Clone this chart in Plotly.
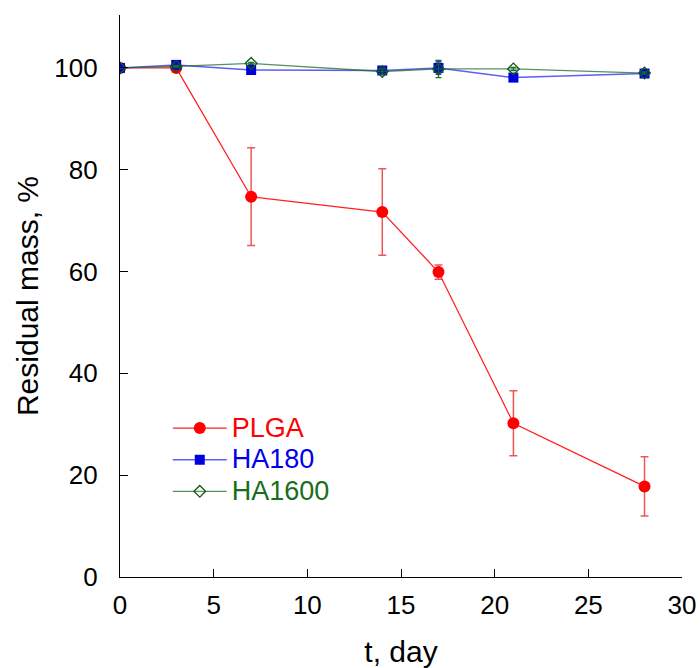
import plotly.graph_objects as go

days = [0, 3, 7, 14, 17, 21, 28]
plga = [100, 100, 74.7, 71.7, 59.9, 30.2, 17.8]
plga_err = [0, 0, 9.6, 8.5, 1.4, 6.4, 5.8]
ha180 = [100, 100.6, 99.6, 99.5, 100.0, 98.1, 98.9]
ha180_err = [0, 0.3, 0.3, 0.4, 1.2, 0.3, 0.3]
ha1600 = [100, 100.3, 100.9, 99.3, 99.8, 99.8, 99.0]
ha1600_err = [0, 0.2, 0.2, 0.5, 1.7, 0.3, 0.2]

FONT = "Liberation Sans, Arial, sans-serif"

def lname(txt, col):
    return f"<span style='color:{col};font-size:27px'>{txt}</span>"

fig = go.Figure()
fig.add_trace(go.Scatter(
    x=days, y=plga, name=lname("PLGA", "#ff0000"),
    mode="lines+markers",
    line=dict(color="#ff2020", width=1.3),
    marker=dict(symbol="circle", size=12, color="#ff0000"),
    error_y=dict(type="data", array=plga_err, visible=True, color="rgba(230,60,60,0.85)", thickness=1.5, width=4),
))
fig.add_trace(go.Scatter(
    x=days, y=ha180, name=lname("HA180", "#0000ee"),
    mode="lines+markers",
    line=dict(color="rgba(40,40,240,0.75)", width=1.5),
    marker=dict(symbol="square", size=10, color="#0000dd"),
    error_y=dict(type="data", array=ha180_err, visible=True, color="#1010c0", thickness=1.3, width=3),
))
fig.add_trace(go.Scatter(
    x=days, y=ha1600, name=lname("HA1600", "#1a6e1a"),
    mode="lines+markers",
    line=dict(color="rgba(30,110,40,0.75)", width=1.3),
    marker=dict(symbol="diamond-open", size=9, color="#0f5a1a", line=dict(width=1.3)),
    error_y=dict(type="data", array=ha1600_err, visible=True, color="#1a6e1a", thickness=1.3, width=3),
))

fig.update_layout(
    width=700, height=668,
    margin=dict(l=120, r=18, t=15, b=91, autoexpand=False),
    paper_bgcolor="white", plot_bgcolor="white",
    font=dict(family=FONT, size=26, color="black"),
    showlegend=True,
    legend=dict(x=0.085, y=0.302, xanchor="left", yanchor="top",
                bgcolor="rgba(0,0,0,0)", font=dict(family=FONT, size=22),
                itemwidth=54, tracegroupgap=0),
)
fig.update_xaxes(
    range=[0, 30], tickvals=[0, 5, 10, 15, 20, 25, 30],
    showline=True, linecolor="black", linewidth=1.2,
    ticks="inside", ticklen=8, tickcolor="black", tickwidth=1,
    showgrid=False, zeroline=False, automargin=False, ticklabelstandoff=5,
    tickfont=dict(size=26), title=dict(text="t, day", font=dict(size=30), standoff=28),
)
fig.update_yaxes(
    range=[0, 110.4], tickvals=[0, 20, 40, 60, 80, 100],
    showline=True, linecolor="black", linewidth=1.2,
    ticks="inside", ticklen=8, tickcolor="black", tickwidth=1,
    showgrid=False, zeroline=False, automargin=False, ticklabelstandoff=16,
    tickfont=dict(size=26), title=dict(text="Residual mass, %", font=dict(size=30), standoff=6),
)

fig.write_html("out.html")
